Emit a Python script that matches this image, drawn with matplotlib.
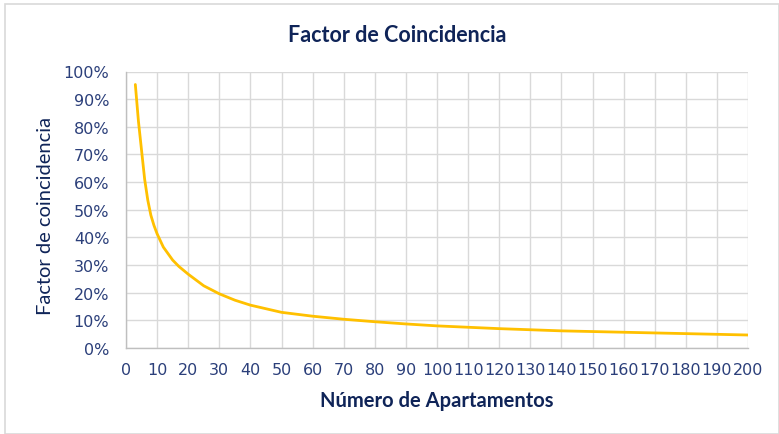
import matplotlib
matplotlib.use("Agg")
import matplotlib.pyplot as plt
from matplotlib.patches import Rectangle
from matplotlib.ticker import PercentFormatter, MultipleLocator

# Data
apartamentos = [3, 4, 5, 6, 7, 8, 9, 10, 12, 15, 17, 20, 25, 30, 35, 40, 50,
                60, 70, 80, 90, 100, 120, 140, 160, 180, 200]
factor = [0.953, 0.82, 0.715, 0.61, 0.535, 0.48, 0.443, 0.413, 0.365, 0.318,
          0.295, 0.267, 0.225, 0.196, 0.173, 0.155, 0.129, 0.115, 0.104,
          0.095, 0.087, 0.080, 0.070, 0.062, 0.057, 0.052, 0.047]

title = "Factor de Coincidencia"
xlabel = "Número de Apartamentos"
ylabel = "Factor de coincidencia"

W, H = 779, 435
fig = plt.figure(figsize=(W / 100, H / 100), dpi=100)
fig.patch.set_facecolor("white")
fig.patches.append(Rectangle((5 / W, 0), 1 - 5 / W, 1 - 5 / H, transform=fig.transFigure,
                             fill=False, edgecolor="#d9d9d9", linewidth=1.2))

left, right, top, bottom = 126, 748, 72.5, 349
ax = fig.add_axes([left / W, (H - bottom) / H, (right - left) / W, (bottom - top) / H])

ax.plot(apartamentos, factor, color="#FFC000", linewidth=2.0, solid_capstyle="round",
        solid_joinstyle="round")

ax.set_xlim(0, 200)
ax.set_ylim(0, 1.0)
ax.xaxis.set_major_locator(MultipleLocator(10))
ax.yaxis.set_major_locator(MultipleLocator(0.1))
ax.yaxis.set_major_formatter(PercentFormatter(1.0, decimals=0))

ax.grid(True, color="#d9d9d9", linewidth=1.0)
ax.set_axisbelow(True)
for s in ["top", "right"]:
    ax.spines[s].set_visible(False)
for s in ["left", "bottom"]:
    ax.spines[s].set_color("#bfbfbf")
    ax.spines[s].set_linewidth(1.0)

tick_color = "#2b3f7a"
ax.tick_params(axis="both", length=0, labelsize=11.5, labelcolor=tick_color)
ax.tick_params(axis="x", pad=10)
ax.tick_params(axis="y", pad=12)

fig.text(397 / W, 1 - 35 / H, title, ha="center", va="center", fontsize=15.5,
         fontweight="bold", color="#0f2458", family="Lato")
fig.text(437 / W, 1 - 401 / H, xlabel, ha="center", va="center", fontsize=14.5,
         fontweight="bold", color="#0f2458", family="Lato")
fig.text(46 / W, 1 - 216 / H, ylabel, ha="center", va="center", fontsize=14.5,
         rotation=90, color="#0f2458", family="Lato")

fig.savefig("out.png", dpi=100)
